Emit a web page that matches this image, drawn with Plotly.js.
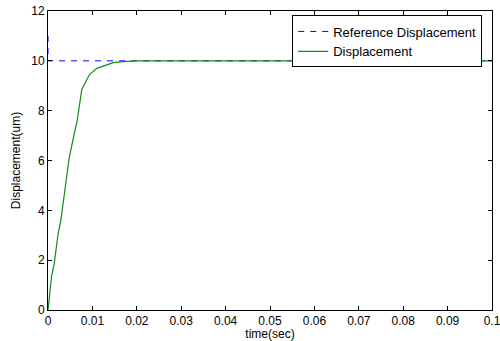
<!DOCTYPE html>
<html>
<head>
<meta charset="utf-8">
<script src="https://cdn.plot.ly/plotly-3.0.1.min.js"></script>
<style>html,body{margin:0;padding:0;background:#fff;}#chart{width:500px;height:341px;}</style>
</head>
<body>
<div id="chart"></div>
<script>
// Reference displacement (um) vs time (sec)
var refTime = [0, 0, 0.1];
var refDisp = [11, 10, 10];

// Measured displacement (um) vs time (sec)
var time = [0, 0.0008, 0.0014, 0.0023, 0.0029, 0.0038, 0.0047, 0.0053, 0.0066, 0.0076, 0.0083, 0.0093, 0.0110, 0.0125, 0.0147, 0.0169, 0.0200, 0.0300, 0.0500, 0.0700, 0.1000];
var disp = [0, 1.34, 1.87, 3.08, 3.61, 4.82, 6.02, 6.56, 7.63, 8.84, 9.10, 9.44, 9.70, 9.80, 9.93, 9.97, 10.0, 10.0, 10.0, 10.0, 10.0];

var xTicks = [0, 0.01, 0.02, 0.03, 0.04, 0.05, 0.06, 0.07, 0.08, 0.09, 0.1];
var xTickText = ['0', '0.01', '0.02', '0.03', '0.04', '0.05', '0.06', '0.07', '0.08', '0.09', '0.1'];
var yTicks = [0, 2, 4, 6, 8, 10, 12];

var traces = [
  {x: refTime, y: refDisp, type: 'scatter', mode: 'lines', name: 'Reference Displacement',
   line: {color: '#0000ff', width: 1, dash: '6px,6px'}},
  {x: time, y: disp, type: 'scatter', mode: 'lines', name: 'Displacement',
   line: {color: '#138a13', width: 1.2}}
];

var fam = 'Liberation Sans, Arial, sans-serif';
var tickFont = {family: fam, size: 12, color: '#000'};
var titleFont = {family: fam, size: 12, color: '#000'};
var layout = {
  width: 500, height: 341,
  margin: {l: 48, r: 8, t: 11, b: 31},
  paper_bgcolor: '#fff', plot_bgcolor: '#fff',
  font: tickFont,
  showlegend: true,
  legend: {x: 0.978, xanchor: 'right', y: 0.985, yanchor: 'top',
           bordercolor: '#000', borderwidth: 1, bgcolor: '#fff',
           font: {family: fam, size: 13, color: '#000'},
           tracegroupgap: 0},
  xaxis: {range: [0, 0.1], tickvals: xTicks, ticktext: xTickText,
          ticks: 'inside', ticklen: 4, tickcolor: '#000', tickwidth: 1,
          ticklabeloverflow: 'allow',
          showline: true, linecolor: '#000', linewidth: 1, mirror: 'ticks',
          showgrid: false, zeroline: false,
          tickfont: tickFont,
          title: {text: 'time(sec)', font: titleFont, standoff: 3}},
  yaxis: {range: [0, 12], tickvals: yTicks,
          ticks: 'inside', ticklen: 4, tickcolor: '#000', tickwidth: 1,
          showline: true, linecolor: '#000', linewidth: 1, mirror: 'ticks',
          showgrid: false, zeroline: false,
          tickfont: tickFont,
          title: {text: 'Displacement(um)', font: titleFont, standoff: 8}}
};

Plotly.newPlot('chart', traces, layout, {staticPlot: true, displayModeBar: false});
</script>
</body>
</html>
